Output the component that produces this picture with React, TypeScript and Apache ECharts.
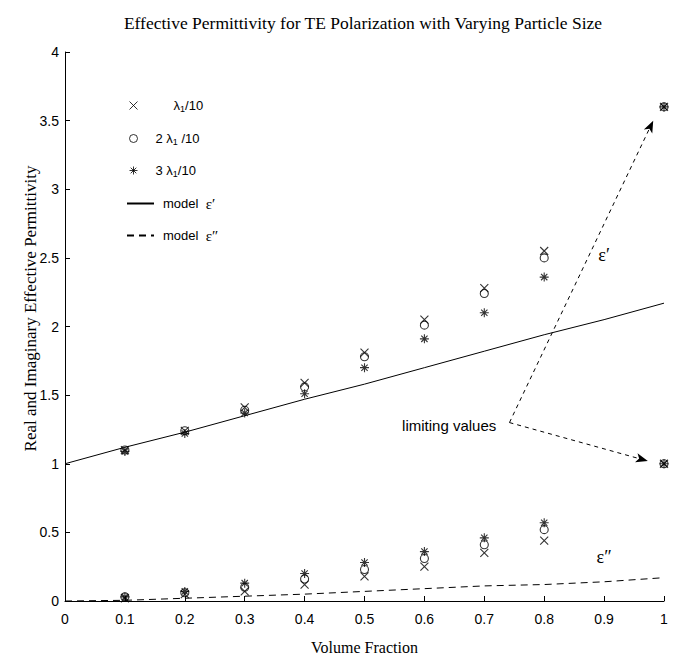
import React, { useEffect, useRef } from "react";
import * as echarts from "echarts";

// Volume fractions where the three particle sizes were simulated
const volumeFraction = [0.1, 0.2, 0.3, 0.4, 0.5, 0.6, 0.7, 0.8];

// Real part (epsilon') for particle sizes lambda1/10, 2 lambda1/10, 3 lambda1/10
const realSize1 = [1.1, 1.24, 1.41, 1.59, 1.81, 2.05, 2.28, 2.55];
const realSize2 = [1.1, 1.24, 1.39, 1.56, 1.78, 2.01, 2.24, 2.5];
const realSize3 = [1.09, 1.22, 1.37, 1.51, 1.7, 1.91, 2.1, 2.36];

// Imaginary part (epsilon'') for the same sizes
const imagSize1 = [0.02, 0.05, 0.07, 0.12, 0.18, 0.25, 0.35, 0.44];
const imagSize2 = [0.03, 0.06, 0.1, 0.16, 0.23, 0.31, 0.41, 0.52];
const imagSize3 = [0.03, 0.07, 0.13, 0.2, 0.28, 0.36, 0.46, 0.57];

// Limiting values at full volume fraction
const limitFraction = 1;
const limitReal = 3.6;
const limitImag = 1.0;

// Effective-medium model curves
const modelFraction = [0, 0.1, 0.2, 0.3, 0.4, 0.5, 0.6, 0.7, 0.8, 0.9, 1];
const modelReal = [1.0, 1.12, 1.23, 1.35, 1.47, 1.58, 1.7, 1.82, 1.94, 2.05, 2.17];
const modelImag = [0, 0.005, 0.02, 0.035, 0.05, 0.07, 0.09, 0.11, 0.12, 0.14, 0.17];

// Annotation anchors (data coordinates)
const arrowStart = [0.742, 1.3];
const arrowToReal = [0.982, 3.5];
const arrowToImag = [0.973, 1.02];
const limitingLabelAt = [0.72, 1.28];
const realLabelAt = [0.9, 2.52];
const imagLabelAt = [0.9, 0.32];

const SANS = "Liberation Sans";
const SERIF = "Liberation Serif";

const crossSymbol = "path://M0,0L10,10M10,0L0,10";
const circleSymbol = "path://M10,5A5,5,0,1,1,0,5A5,5,0,1,1,10,5Z";
const starSymbol = "path://M5,0L5,10M0,5L10,5M1.5,1.5L8.5,8.5M8.5,1.5L1.5,8.5";

const pointsFor = (real: number[], imag: number[]) => [
  ...volumeFraction.map((x, i) => [x, real[i]]),
  ...volumeFraction.map((x, i) => [x, imag[i]]),
  [limitFraction, limitReal],
  [limitFraction, limitImag],
];

const markerStyle = { color: "transparent", borderColor: "#000", borderWidth: 1.1 };

const legendRich = {
  n: { fontFamily: SANS, fontSize: 13, color: "#000", lineHeight: 16 },
  sub: { fontFamily: SANS, fontSize: 9, color: "#000", lineHeight: 10, verticalAlign: "bottom" },
  e: { fontFamily: SERIF, fontSize: 15, color: "#000", lineHeight: 16 },
};

const legendLabels: Record<string, string> = {
  size1: "{n|     λ}{sub|1}{n|/10}",
  size2: "{n|2 λ}{sub|1}{n| /10}",
  size3: "{n|3 λ}{sub|1}{n|/10}",
  modelReal: "{n|model  }{e|ε′}",
  modelImag: "{n|model  }{e|ε″}",
};

const rowY = [107, 140, 172, 204, 236];

const makeLegend = (name: string, row: number, isLine: boolean) => ({
  data: [name],
  orient: "vertical",
  left: isLine ? 126 : 129,
  top: rowY[row] - 8,
  itemWidth: isLine ? 27 : 8,
  itemHeight: 8,
  padding: 0,
  selectedMode: false,
  formatter: (n: string) => legendLabels[n],
  itemStyle: isLine
    ? { color: "transparent", borderColor: "transparent", borderWidth: 0 }
    : { color: "transparent", borderColor: "#000", borderWidth: 1 },
  textStyle: {
    rich: legendRich,
    padding: isLine ? [0, 0, 0, 4] : [0, 0, 0, 13],
  },
});

export default function App() {
  const ref = useRef<HTMLDivElement>(null);

  useEffect(() => {
    if (!ref.current) return;
    const chart = echarts.init(ref.current, undefined, { renderer: "svg" });

    const axisCommon = {
      type: "value",
      nameLocation: "middle",
      nameMoveOverlap: false,
      nameTextStyle: { fontFamily: SERIF, fontSize: 16, color: "#000" },
      axisLine: { show: true, onZero: false, lineStyle: { color: "#000", width: 1 } },
      axisTick: { show: true, inside: true, length: 5, lineStyle: { color: "#000", width: 1 } },
      axisLabel: { color: "#000", fontFamily: SANS, fontSize: 14 },
      splitLine: { show: false },
    };

    chart.setOption({
      animation: false,
      backgroundColor: "#fff",
      title: {
        text: "Effective Permittivity for TE Polarization with Varying Particle Size",
        left: 358,
        top: 9,
        textAlign: "center",
        textStyle: { fontFamily: SERIF, fontSize: 17.5, fontWeight: "normal", color: "#000" },
      },
      grid: { left: 65, right: 15, top: 52, bottom: 59 },
      xAxis: {
        ...axisCommon,
        min: 0,
        max: 1,
        interval: 0.1,
        name: "Volume Fraction",
        nameGap: 38,
        axisLabel: { ...axisCommon.axisLabel, margin: 11 },
      },
      yAxis: {
        ...axisCommon,
        min: 0,
        max: 4,
        interval: 0.5,
        name: "Real and Imaginary Effective Permittivity",
        nameGap: 26,
        nameTextStyle: { fontFamily: SERIF, fontSize: 17, color: "#000", padding: [0, 0, 0, 36] },
        axisLabel: { ...axisCommon.axisLabel, margin: 6 },
      },
      legend: [
        makeLegend("size1", 0, false),
        makeLegend("size2", 1, false),
        makeLegend("size3", 2, false),
        makeLegend("modelReal", 3, true),
        makeLegend("modelImag", 4, true),
      ],
      series: [
        {
          name: "size1",
          type: "scatter",
          symbol: crossSymbol,
          symbolSize: 8,
          itemStyle: markerStyle,
          clip: false,
          data: pointsFor(realSize1, imagSize1),
        },
        {
          name: "size2",
          type: "scatter",
          symbol: circleSymbol,
          symbolSize: 8,
          itemStyle: markerStyle,
          clip: false,
          data: pointsFor(realSize2, imagSize2),
        },
        {
          name: "size3",
          type: "scatter",
          symbol: starSymbol,
          symbolSize: 9,
          itemStyle: markerStyle,
          clip: false,
          data: pointsFor(realSize3, imagSize3),
        },
        {
          name: "modelReal",
          type: "line",
          symbol: "none",
          lineStyle: { color: "#000", width: 1 },
          itemStyle: { color: "#000" },
          data: modelFraction.map((x, i) => [x, modelReal[i]]),
          markPoint: {
            symbol: "circle",
            symbolSize: 0,
            silent: true,
            data: [
              {
                coord: limitingLabelAt,
                label: {
                  show: true,
                  position: "left",
                  distance: 0,
                  formatter: "limiting values",
                  fontFamily: SANS,
                  fontSize: 15,
                  color: "#000",
                },
              },
              {
                coord: realLabelAt,
                label: {
                  show: true,
                  position: "inside",
                  formatter: "ε′",
                  fontFamily: SERIF,
                  fontSize: 18,
                  color: "#000",
                },
              },
              {
                coord: imagLabelAt,
                label: {
                  show: true,
                  position: "inside",
                  formatter: "ε″",
                  fontFamily: SERIF,
                  fontSize: 18,
                  color: "#000",
                },
              },
            ],
          },
          markLine: {
            silent: true,
            symbol: ["none", "arrow"],
            symbolSize: [7, 12],
            label: { show: false },
            lineStyle: { color: "#000", width: 1, type: [4, 4] },
            data: [
              [{ coord: arrowStart }, { coord: arrowToReal }],
              [{ coord: arrowStart }, { coord: arrowToImag }],
            ],
          },
        },
        {
          name: "modelImag",
          type: "line",
          symbol: "none",
          lineStyle: { color: "#000", width: 1, type: [7, 5] },
          itemStyle: { color: "#000" },
          data: modelFraction.map((x, i) => [x, modelImag[i]]),
        },
      ],
    });

    return () => chart.dispose();
  }, []);

  return (
    <div
      ref={ref}
      style={{ position: "fixed", left: 0, top: 0, width: 679, height: 660, background: "#fff" }}
    />
  );
}
